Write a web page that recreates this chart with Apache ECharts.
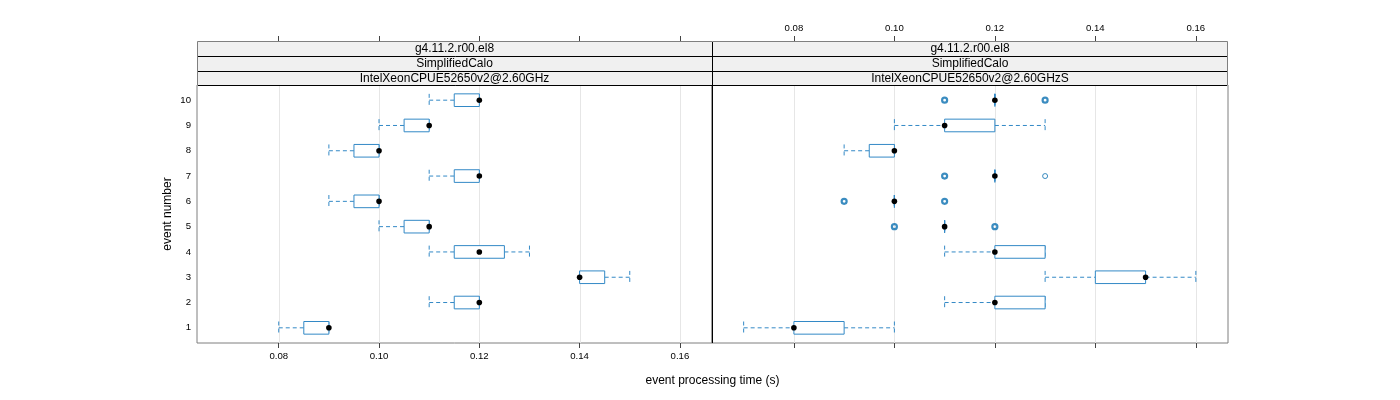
<!DOCTYPE html>
<html><head><meta charset="utf-8">
<script src="https://cdn.jsdelivr.net/npm/echarts@6/dist/echarts.min.js"></script>
<style>html,body{margin:0;padding:0;background:#fff}#c{width:1400px;height:400px}</style>
</head><body><div id="c"></div>
<script>
// ---- data ----
const events = [1, 2, 3, 4, 5, 6, 7, 8, 9, 10];
const xTicks = [0.08, 0.10, 0.12, 0.14, 0.16];
const stripTop = 'g4.11.2.r00.el8';
const stripMid = 'SimplifiedCalo';
const panelNames = ['IntelXeonCPUE52650v2@2.60GHz', 'IntelXeonCPUE52650v2@2.60GHzS'];
const xTitle = 'event processing time (s)';
const yTitle = 'event number';

// left panel: IntelXeonCPUE52650v2@2.60GHz
const leftLow  = [0.08, 0.11, 0.14, 0.11, 0.10, 0.09, 0.11, 0.09, 0.10, 0.11];
const leftQ1   = [0.085, 0.115, 0.14, 0.115, 0.105, 0.095, 0.115, 0.095, 0.105, 0.115];
const leftMed  = [0.09, 0.12, 0.14, 0.12, 0.11, 0.10, 0.12, 0.10, 0.11, 0.12];
const leftQ3   = [0.09, 0.12, 0.145, 0.125, 0.11, 0.10, 0.12, 0.10, 0.11, 0.12];
const leftHigh = [0.09, 0.12, 0.15, 0.13, 0.11, 0.10, 0.12, 0.10, 0.11, 0.12];

// right panel: IntelXeonCPUE52650v2@2.60GHzS
const rightLow  = [0.07, 0.11, 0.13, 0.11, 0.11, 0.10, 0.12, 0.09, 0.10, 0.12];
const rightQ1   = [0.08, 0.12, 0.14, 0.12, 0.11, 0.10, 0.12, 0.095, 0.11, 0.12];
const rightMed  = [0.08, 0.12, 0.15, 0.12, 0.11, 0.10, 0.12, 0.10, 0.11, 0.12];
const rightQ3   = [0.09, 0.13, 0.15, 0.13, 0.11, 0.10, 0.12, 0.10, 0.12, 0.12];
const rightHigh = [0.10, 0.13, 0.16, 0.13, 0.11, 0.10, 0.12, 0.10, 0.13, 0.12];

const rightOutTime  = [0.10, 0.12, 0.09, 0.11, 0.11, 0.13, 0.11, 0.13];
const rightOutEvent = [5, 5, 6, 6, 7, 7, 10, 10];
const rightOutCount = [2, 2, 2, 2, 2, 1, 2, 2];

// ---- chart ----
const X_MIN = 0.0637, X_MAX = 0.1664;
const BOX_COL = '#3389c6';
const OUT_COL = '#0a6fb0';
const FONT = 'Liberation Sans, Arial, sans-serif';

const P = [
  {left: 197, width: 515},
  {left: 712, width: 516}
];
const GRID_TOP = 85, GRID_H = 258;
const STRIP_Y = [41, 56, 71, 85];

function boxData(lo, q1, md, q3, hi) {
  return events.map((e, i) => [e, lo[i], q1[i], md[i], q3[i], hi[i]]);
}

function renderBox(params, api) {
  const ev = api.value(0);
  const pLo = api.coord([api.value(1), ev]);
  const pQ1 = api.coord([api.value(2), ev]);
  const pMd = api.coord([api.value(3), ev]);
  const pQ3 = api.coord([api.value(4), ev]);
  const pHi = api.coord([api.value(5), ev]);
  const h = api.size([0, 0.5])[1];
  const y = pMd[1];
  const dash = {stroke: BOX_COL, lineWidth: 1, lineDash: [4, 3]};
  return {
    type: 'group',
    children: [
      {type: 'line', shape: {x1: pLo[0], y1: y, x2: pQ1[0], y2: y}, style: dash},
      {type: 'line', shape: {x1: pQ3[0], y1: y, x2: pHi[0], y2: y}, style: dash},
      {type: 'line', shape: {x1: pLo[0], y1: y - h / 2, x2: pLo[0], y2: y + h / 2}, style: dash},
      {type: 'line', shape: {x1: pHi[0], y1: y - h / 2, x2: pHi[0], y2: y + h / 2}, style: dash},
      {type: 'rect', shape: {x: pQ1[0], y: y - h / 2, width: pQ3[0] - pQ1[0], height: h},
        style: {fill: '#fff', stroke: BOX_COL, lineWidth: 1}},
      {type: 'circle', shape: {cx: pMd[0], cy: y, r: 2.8}, style: {fill: '#000'}}
    ]
  };
}

function renderGridLine(params, api) {
  const cs = params.coordSys;
  const x = Math.round(api.coord([api.value(0), 1])[0]) + 0.5;
  return {type: 'line', shape: {x1: x, y1: cs.y, x2: x, y2: cs.y + cs.height},
    style: {stroke: '#e6e6e6', lineWidth: 1}};
}

function xAxisDef(grid, pos, showLabel) {
  return {
    type: 'value', gridIndex: grid, position: pos, min: X_MIN, max: X_MAX,
    offset: pos === 'top' ? (GRID_TOP - STRIP_Y[0]) : 0,
    axisLine: {show: false},
    axisTick: {show: true, customValues: xTicks, length: 5, lineStyle: {color: '#444'}},
    axisLabel: {show: showLabel, customValues: xTicks, formatter: v => v.toFixed(2),
      fontSize: 9.6, fontFamily: FONT, color: '#000', margin: 8},
    splitLine: {show: false}
  };
}
function yAxisDef(grid, showLabel) {
  return {
    type: 'value', gridIndex: grid, min: 0.4, max: 10.6,
    axisLine: {show: false}, axisTick: {show: false}, splitLine: {show: false},
    axisLabel: {show: showLabel, customValues: events, fontSize: 9.6, fontFamily: FONT, color: '#000', margin: 6},
    name: showLabel ? yTitle : '', nameLocation: 'middle', nameGap: 23, nameRotate: 90,
    nameTextStyle: {fontSize: 12, fontFamily: FONT, color: '#000'}
  };
}

const graphics = [];
P.forEach((p, i) => {
  const labels = [stripTop, stripMid, panelNames[i]];
  for (let k = 0; k < 3; k++) {
    graphics.push({type: 'rect', z: 10,
      shape: {x: p.left, y: STRIP_Y[k], width: p.width, height: STRIP_Y[k + 1] - STRIP_Y[k]},
      style: {fill: '#f0f0f0'}});
    graphics.push({type: 'text', z: 12,
      x: p.left + p.width / 2, y: (STRIP_Y[k] + STRIP_Y[k + 1]) / 2 + 0.5,
      style: {text: labels[k], fill: '#000', fontSize: 12, fontFamily: FONT, align: 'center', verticalAlign: 'middle'}});
  }
});
const L = P[0].left, R = P[1].left + P[1].width;
// grey outer outline of strips
graphics.push({type: 'polyline', z: 13, shape: {points: [[L + 0.5, GRID_TOP], [L + 0.5, STRIP_Y[0] + 0.5], [R - 0.5, STRIP_Y[0] + 0.5], [R - 0.5, GRID_TOP]]},
  style: {stroke: '#7f7f7f', lineWidth: 1, fill: null}});
// black separators
[STRIP_Y[1], STRIP_Y[2], STRIP_Y[3]].forEach(y => {
  graphics.push({type: 'line', z: 14, shape: {x1: L + 1, y1: y + 0.5, x2: R - 1, y2: y + 0.5}, style: {stroke: '#000', lineWidth: 1}});
});
graphics.push({type: 'line', z: 14, shape: {x1: P[1].left + 0.5, y1: STRIP_Y[0] + 1, x2: P[1].left + 0.5, y2: GRID_TOP + GRID_H}, style: {stroke: '#000', lineWidth: 1}});
graphics.push({type: 'text', z: 12, x: (L + R) / 2, y: 381,
  style: {text: xTitle, fill: '#000', fontSize: 12, fontFamily: FONT, align: 'center', verticalAlign: 'middle'}});

const outData = rightOutTime.map((t, i) => ({
  value: [t, rightOutEvent[i]],
  itemStyle: {borderWidth: rightOutCount[i] > 1 ? 2.2 : 1}
}));

const chart = echarts.init(document.getElementById('c'), null, {renderer: 'canvas'});
chart.setOption({
  animation: false,
  backgroundColor: '#fff',
  grid: P.map(p => ({left: p.left, top: GRID_TOP, width: p.width, height: GRID_H,
    show: true, borderColor: '#7f7f7f', borderWidth: 1, backgroundColor: 'transparent'})),
  xAxis: [xAxisDef(0, 'bottom', true), xAxisDef(0, 'top', false), xAxisDef(1, 'bottom', false), xAxisDef(1, 'top', true)],
  yAxis: [yAxisDef(0, true), yAxisDef(1, false)],
  graphic: graphics,
  series: [
    {type: 'custom', xAxisIndex: 0, yAxisIndex: 0, data: xTicks.map(v => [v]), renderItem: renderGridLine, silent: true, z: 1, encode: {x: 0}},
    {type: 'custom', xAxisIndex: 2, yAxisIndex: 1, data: xTicks.map(v => [v]), renderItem: renderGridLine, silent: true, z: 1, encode: {x: 0}},
    {type: 'custom', xAxisIndex: 0, yAxisIndex: 0, data: boxData(leftLow, leftQ1, leftMed, leftQ3, leftHigh),
      renderItem: renderBox, encode: {x: [1, 2, 3, 4, 5], y: 0}, z: 3},
    {type: 'custom', xAxisIndex: 2, yAxisIndex: 1, data: boxData(rightLow, rightQ1, rightMed, rightQ3, rightHigh),
      renderItem: renderBox, encode: {x: [1, 2, 3, 4, 5], y: 0}, z: 3},
    {type: 'scatter', xAxisIndex: 2, yAxisIndex: 1, data: outData, symbol: 'circle', symbolSize: 5,
      itemStyle: {color: 'rgba(0,0,0,0)', borderColor: OUT_COL}, z: 4}
  ]
});
</script></body></html>
